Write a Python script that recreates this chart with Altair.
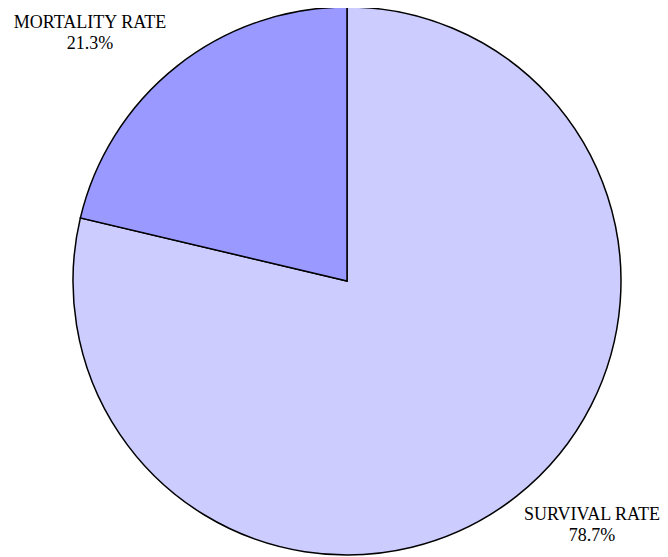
import altair as alt
import pandas as pd

categories = ["SURVIVAL RATE", "MORTALITY RATE"]
values = [78.7, 21.3]
colors = ["#CCCCFF", "#9999FF"]
order = [0, 1]

df = pd.DataFrame({"category": categories, "value": values, "order": order,
                   "label": [f"{c}\n{v}%" for c, v in zip(categories, values)]})

pie = alt.Chart(df).mark_arc(stroke="black", strokeWidth=1.5, radius=274).encode(
    theta=alt.Theta("value:Q", stack=True),
    order=alt.Order("order:Q"),
    color=alt.Color("category:N", scale=alt.Scale(domain=categories, range=colors), legend=None),
    x=alt.value(339),
    y=alt.value(273),
)

def label(cat, x, y):
    return alt.Chart(df).transform_filter(alt.datum.category == cat).mark_text(
        lineBreak="\n", baseline="top", align="center", font="Liberation Serif",
        fontSize=18, color="black", lineHeight=21
    ).encode(text="label:N", x=alt.value(x), y=alt.value(y))

chart = alt.layer(
    pie,
    label("MORTALITY RATE", 82, 6),
    label("SURVIVAL RATE", 584, 498),
).properties(width=652, height=560, padding=0, autosize="none").configure_view(stroke=None)

chart.save("out.html", embed_options={"renderer": "svg", "actions": False})
